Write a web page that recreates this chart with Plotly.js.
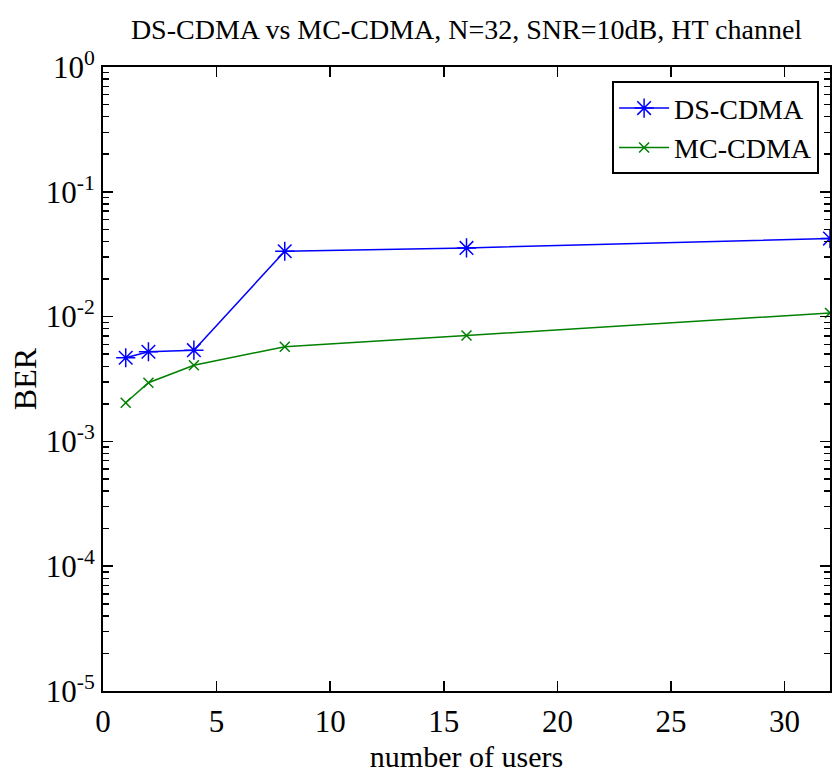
<!DOCTYPE html>
<html>
<head>
<meta charset="utf-8">
<script src="https://cdn.plot.ly/plotly-3.0.1.min.js"></script>
<style>
html, body { margin: 0; padding: 0; background: #fff; }
#chart { width: 832px; height: 773px; }
</style>
</head>
<body>
<div id="chart"></div>
<script>
// Data
const users = [1, 2, 4, 8, 16, 32];
const berDS = [4.68e-3, 5.23e-3, 5.38e-3, 3.34e-2, 3.55e-2, 4.22e-2];
const berMC = [2.04e-3, 2.95e-3, 4.08e-3, 5.73e-3, 7.06e-3, 1.07e-2];

const seriesNames = ['DS-CDMA', 'MC-CDMA'];
const titleText = 'DS-CDMA vs MC-CDMA, N=32, SNR=10dB, HT channel';
const xTitle = 'number of users';
const yTitle = 'BER';

const yTickVals = [1e-5, 1e-4, 1e-3, 1e-2, 1e-1, 1];
const yTickText = ['10<sup>-5</sup>', '10<sup>-4</sup>', '10<sup>-3</sup>', '10<sup>-2</sup>', '10<sup>-1</sup>', '10<sup>0</sup>'];

// minor log ticks (2..9 in each decade)
const minorVals = [];
for (let e = -5; e < 0; e++) {
  for (let m = 2; m <= 9; m++) minorVals.push(m * Math.pow(10, e));
}

const FONT = 'Liberation Serif, Times New Roman, serif';

const traces = [
  {
    x: users, y: berDS, name: seriesNames[0], type: 'scatter', mode: 'lines+markers',
    line: { color: '#0000ff', width: 1.5 },
    marker: { symbol: 'asterisk-open', size: 16, color: '#0000ff', line: { color: '#0000ff', width: 1.5 } }
  },
  {
    x: users, y: berMC, name: seriesNames[1], type: 'scatter', mode: 'lines+markers',
    line: { color: '#008000', width: 1.5 },
    marker: { symbol: 'x-thin-open', size: 10, color: '#008000', line: { color: '#008000', width: 1.5 } }
  }
];

const layout = {
  width: 832, height: 773,
  paper_bgcolor: '#ffffff', plot_bgcolor: '#ffffff',
  margin: { l: 103, r: 2, t: 67, b: 82 },
  font: { family: FONT, size: 28, color: '#000' },
  title: {
    text: titleText, font: { family: FONT, size: 28, color: '#000' },
    x: 0.5, xref: 'paper', y: 0.962, yref: 'container', yanchor: 'middle'
  },
  showlegend: true,
  legend: {
    x: 0.985, xanchor: 'right', y: 0.977, yanchor: 'top',
    bgcolor: '#ffffff', bordercolor: '#000', borderwidth: 2,
    font: { family: FONT, size: 28, color: '#000' },
    itemwidth: 50, tracegroupgap: 0
  },
  xaxis: {
    range: [0, 32], tickmode: 'linear', tick0: 0, dtick: 5,
    showgrid: false, zeroline: false,
    showline: true, linecolor: '#000', linewidth: 2, mirror: 'ticks',
    ticks: 'inside', ticklen: 10, tickwidth: 1.5, tickcolor: '#000',
    tickfont: { family: FONT, size: 31, color: '#000' },
    ticklabelstandoff: 2,
    title: { text: xTitle, font: { family: FONT, size: 30, color: '#000' }, standoff: 8 }
  },
  yaxis: {
    type: 'log', range: [-5, 0],
    tickmode: 'array', tickvals: yTickVals, ticktext: yTickText,
    showgrid: false, zeroline: false,
    showline: true, linecolor: '#000', linewidth: 2, mirror: 'ticks',
    ticks: 'inside', ticklen: 10, tickwidth: 1.5, tickcolor: '#000',
    tickfont: { family: FONT, size: 31, color: '#000' },
    minor: { tickmode: 'array', tickvals: minorVals, ticks: 'inside', ticklen: 6, tickwidth: 1.5, tickcolor: '#000', showgrid: false },
    title: { text: yTitle, font: { family: FONT, size: 32, color: '#000' }, standoff: 0 }
  }
};

Plotly.newPlot('chart', traces, layout, { displayModeBar: false, staticPlot: true });
</script>
</body>
</html>
